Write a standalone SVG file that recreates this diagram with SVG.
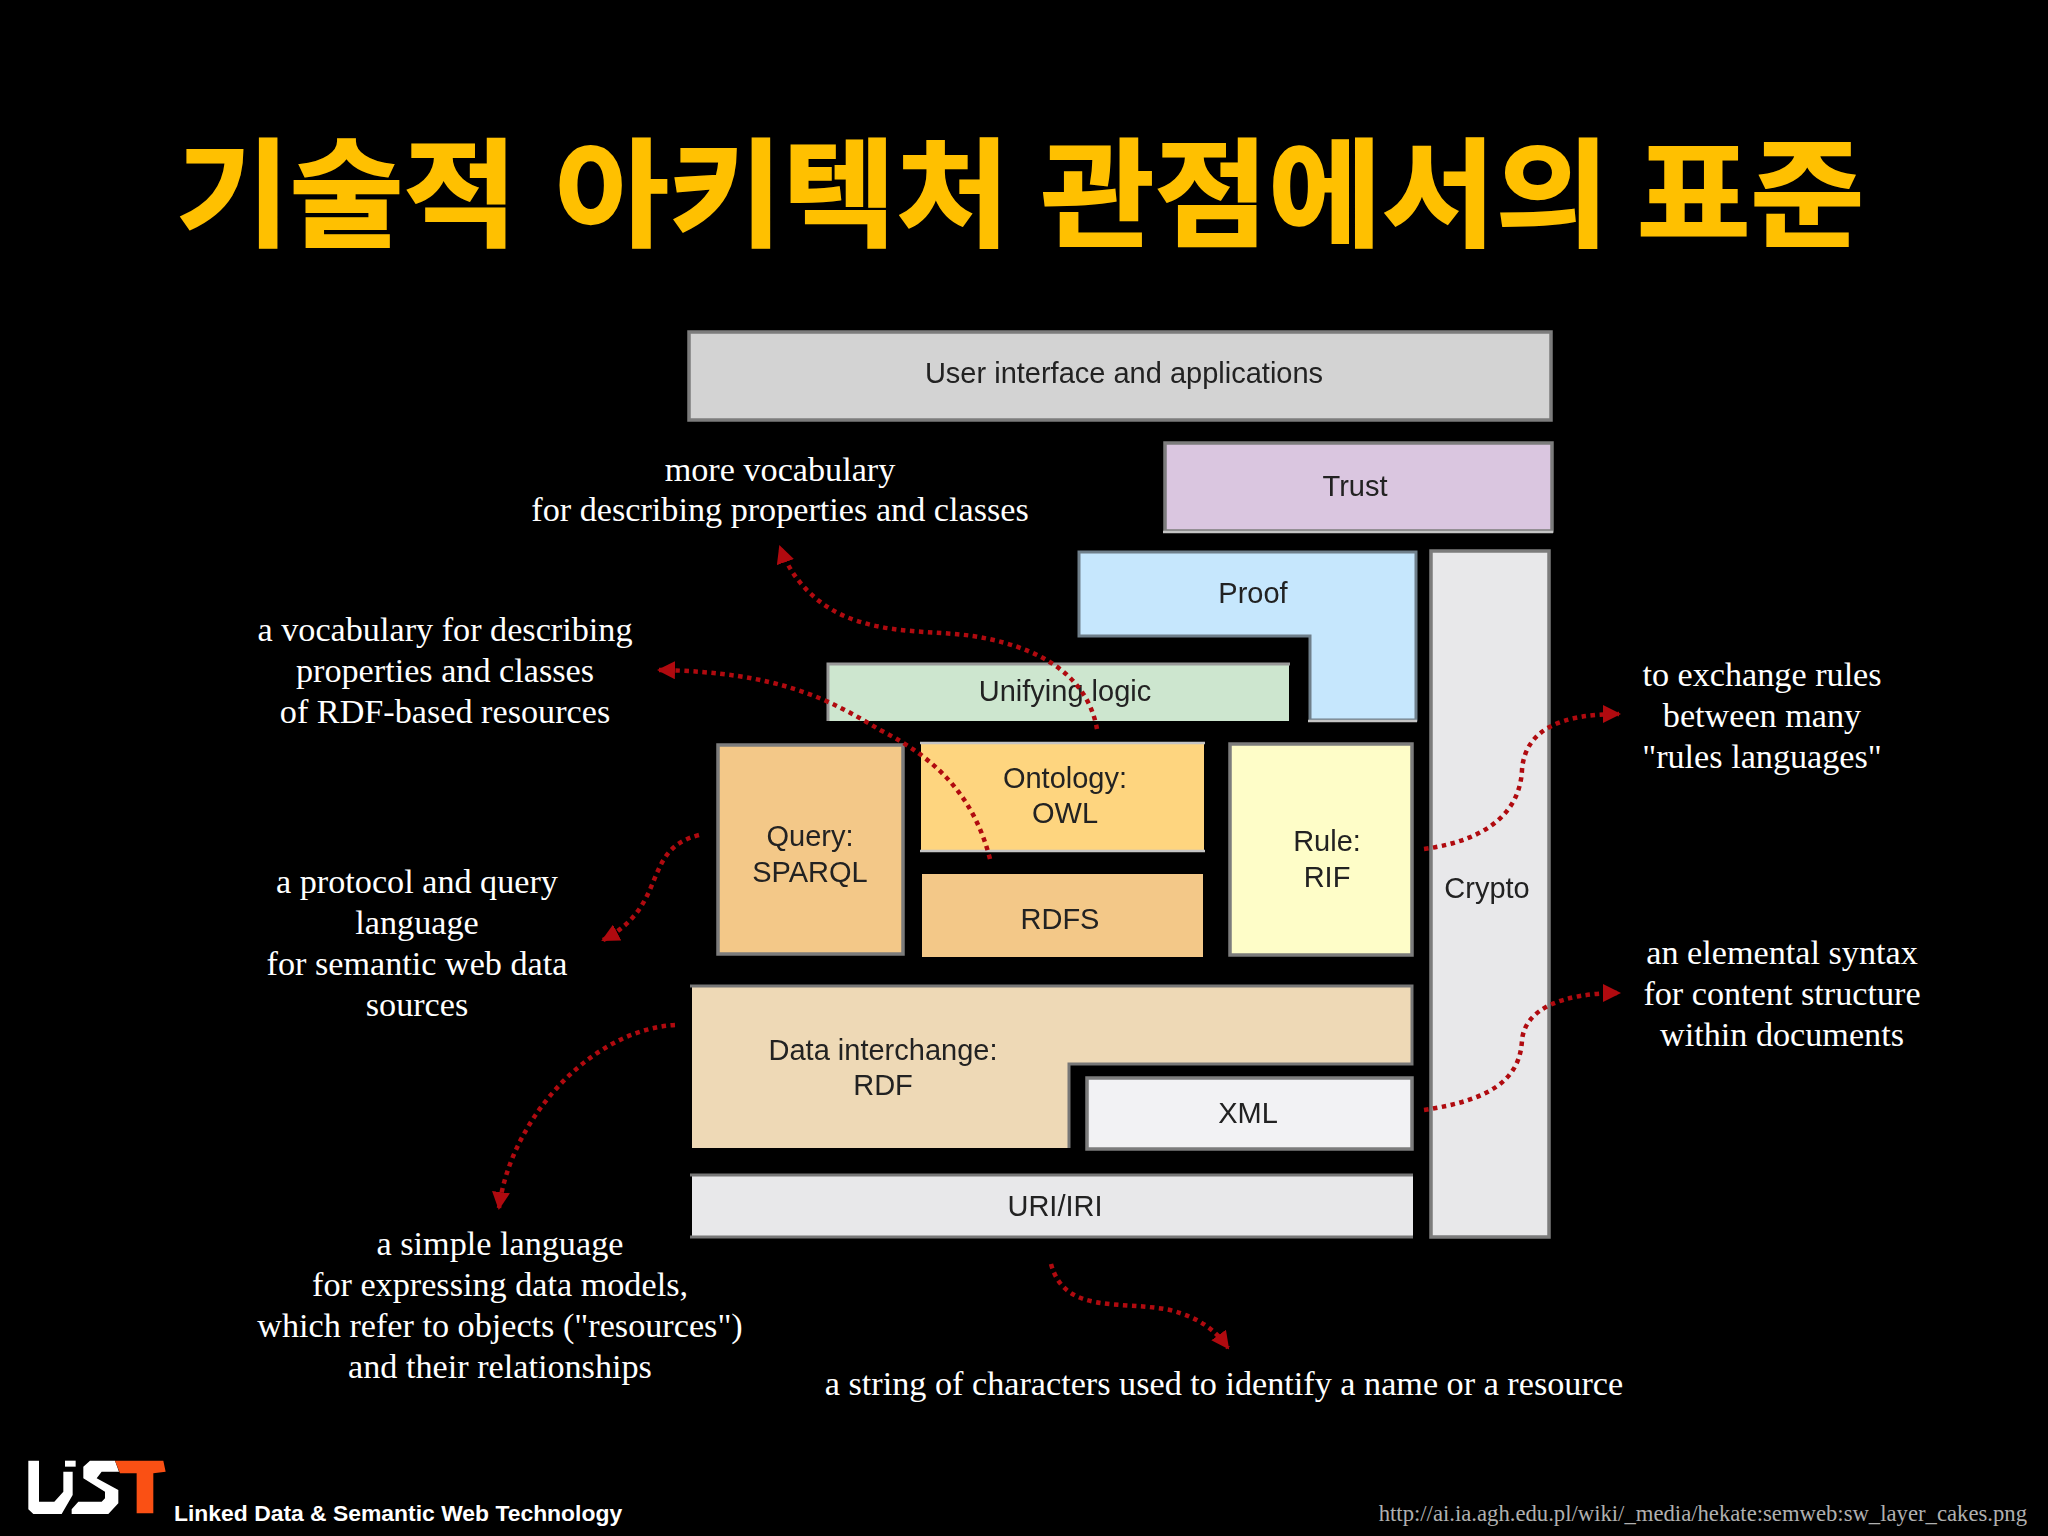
<svg xmlns="http://www.w3.org/2000/svg" width="2048" height="1536" viewBox="0 0 2048 1536">
<style>
.note{font-family:"Liberation Serif",serif;font-size:34.2px;fill:#fff;text-anchor:middle}
.lbl{font-family:"Liberation Sans",Arial,sans-serif;font-size:29px;fill:#222;text-anchor:middle;filter:url(#soft)}
.box{stroke:#7c7c7c;stroke-width:3.5}
.edge{fill:none;stroke:#c4c4c4;stroke-width:2.5}
.link{fill:none;stroke:#b00a0f;stroke-width:4.5;stroke-dasharray:4.5 4.5;marker-end:url(#head)}
</style>
<defs>
<filter id="soft" x="-5%" y="-20%" width="110%" height="140%"><feGaussianBlur stdDeviation="0.5"/></filter>
<marker id="head" markerUnits="userSpaceOnUse" markerWidth="20" markerHeight="18" refX="16" refY="9" orient="auto"><path d="M0,0L18,9L0,18Z" fill="#b00a0f"/></marker>
</defs>
<rect width="2048" height="1536" fill="#000"/>
<text id="title" transform="translate(176,237) scale(1.03,0.975)" font-family="'Noto Sans CJK KR','Noto Sans',sans-serif" font-weight="700" font-size="120" word-spacing="12" fill="#ffc000" stroke="#ffc000" stroke-width="2">기술적 <tspan dx="-2.5">아키텍처</tspan> <tspan dx="-9">관점에서의</tspan> <tspan dx="-12.6">표준</tspan></text>
<g id="user"><rect class="box" x="689" y="332" width="862" height="88" fill="#d3d3d3"/><text class="lbl" x="1124" y="383">User interface and applications</text></g>
<g id="trust"><rect class="box" x="1165" y="443" width="387" height="88" fill="#dac6e0"/><path class="edge" d="M1163,532H1553"/><text class="lbl" x="1355" y="496">Trust</text></g>
<g id="proof"><path d="M1079,552H1416V720H1310V636H1079Z" fill="#c6e7fd" stroke="#6f7f8a" stroke-width="3"/><path class="edge" d="M1308,721H1417"/><text class="lbl" x="1253" y="603">Proof</text></g>
<g id="crypto"><rect class="box" x="1431" y="551" width="118" height="686" fill="#e8e8ea"/><text class="lbl" x="1487" y="898">Crypto</text></g>
<g id="unifying"><path d="M828,721V664H1289V721Z" fill="#cde6cf"/><path d="M828,721V664H1290" fill="none" stroke="#999" stroke-width="3"/><text class="lbl" x="1065" y="701">Unifying logic</text></g>
<g id="query"><rect class="box" x="718" y="745" width="185" height="209" fill="#f3c888"/><text class="lbl" x="810" y="846">Query:</text><text class="lbl" x="810" y="882">SPARQL</text></g>
<g id="ontology"><rect x="921" y="744" width="283" height="106" fill="#fed57f"/><path class="edge" d="M920,743H1205M920,851H1205"/><text class="lbl" x="1065" y="788">Ontology:</text><text class="lbl" x="1065" y="823">OWL</text></g>
<g id="rdfs"><rect x="922" y="874" width="281" height="83" fill="#f3c888"/><text class="lbl" x="1060" y="929">RDFS</text></g>
<g id="rule"><rect class="box" x="1230" y="744" width="182" height="211" fill="#fefdc8"/><text class="lbl" x="1327" y="851">Rule:</text><text class="lbl" x="1327" y="887">RIF</text></g>
<g id="rdf"><path d="M692,987H1411V1063H1069V1148H692Z" fill="#eed9b6"/><path d="M690,986H1412V1064H1069V1148" fill="none" stroke="#777" stroke-width="3"/><text class="lbl" x="883" y="1060">Data interchange:</text><text class="lbl" x="883" y="1095">RDF</text></g>
<g id="xml"><rect class="box" x="1087" y="1078" width="325" height="71" fill="#f2f2f4"/><text class="lbl" x="1248" y="1123">XML</text></g>
<g id="uri"><path d="M692,1175H1413V1237H692Z" fill="#e8e8ea"/><path d="M690,1175H1413M690,1237H1413" stroke="#777" stroke-width="3"/><text class="lbl" x="1055" y="1216">URI/IRI</text></g>
<g id="connectors">
<path class="link" d="M1097,729C1090,690 1060,650 973,636C930,630 880,635 836,612C810,598 790,575 780,547"/>
<path class="link" d="M990,859C975,800 940,760 880,730C830,700 780,672 659,670"/>
<path class="link" d="M699,835C640,850 670,905 603,940"/>
<path class="link" d="M675,1025C590,1030 510,1120 499,1208"/>
<path class="link" d="M1424,849C1490,840 1520,810 1522,770C1525,730 1560,714 1619,714"/>
<path class="link" d="M1424,1110C1490,1100 1520,1080 1522,1040C1525,1010 1560,993 1619,993"/>
<path class="link" d="M1051,1264C1065,1315 1120,1300 1170,1310C1200,1318 1215,1330 1228,1348"/>
</g>
<g id="notes">
<text class="note" x="780" y="481">more vocabulary</text>
<text class="note" x="780" y="521">for describing properties and classes</text>
<text class="note" x="445" y="641">a vocabulary for describing</text>
<text class="note" x="445" y="682">properties and classes</text>
<text class="note" x="445" y="723">of RDF-based resources</text>
<text class="note" x="417" y="893">a protocol and query</text>
<text class="note" x="417" y="934">language</text>
<text class="note" x="417" y="975">for semantic web data</text>
<text class="note" x="417" y="1016">sources</text>
<text class="note" x="500" y="1255">a simple language</text>
<text class="note" x="500" y="1296">for expressing data models,</text>
<text class="note" x="500" y="1337">which refer to objects ("resources")</text>
<text class="note" x="500" y="1378">and their relationships</text>
<text class="note" x="1224" y="1395">a string of characters used to identify a name or a resource</text>
<text class="note" x="1762" y="686">to exchange rules</text>
<text class="note" x="1762" y="727">between many</text>
<text class="note" x="1762" y="768">"rules languages"</text>
<text class="note" x="1782" y="964">an elemental syntax</text>
<text class="note" x="1782" y="1005">for content structure</text>
<text class="note" x="1782" y="1046">within documents</text>
</g>
<g id="logo" transform="translate(15,1450) scale(0.3333)">
<path d="M40,32H72V155H118L145,125V65H173V135L140,192H55L40,178Z" fill="#fff"/>
<path d="M150,32H182V50H150Z" fill="#fff"/>
<path d="M225,32H300L312,65H260L245,85L310,120V160L280,192H170V178L190,155H260L270,145V125L205,85V50Z" fill="#fff"/>
<path d="M300,32H445L452,65L415,70V190H365V70H315Z" fill="#fa5014"/>
</g>
<text id="footer" x="174" y="1521" font-family="'Liberation Sans',Arial,sans-serif" font-weight="700" font-size="22.9px" fill="#fff">Linked Data &amp; Semantic Web Technology</text>
<text id="source" x="2027" y="1521" text-anchor="end" font-family="'Liberation Serif',serif" font-size="22.7px" fill="#b0b0b0">http://ai.ia.agh.edu.pl/wiki/_media/hekate:semweb:sw_layer_cakes.png</text>
</svg>
